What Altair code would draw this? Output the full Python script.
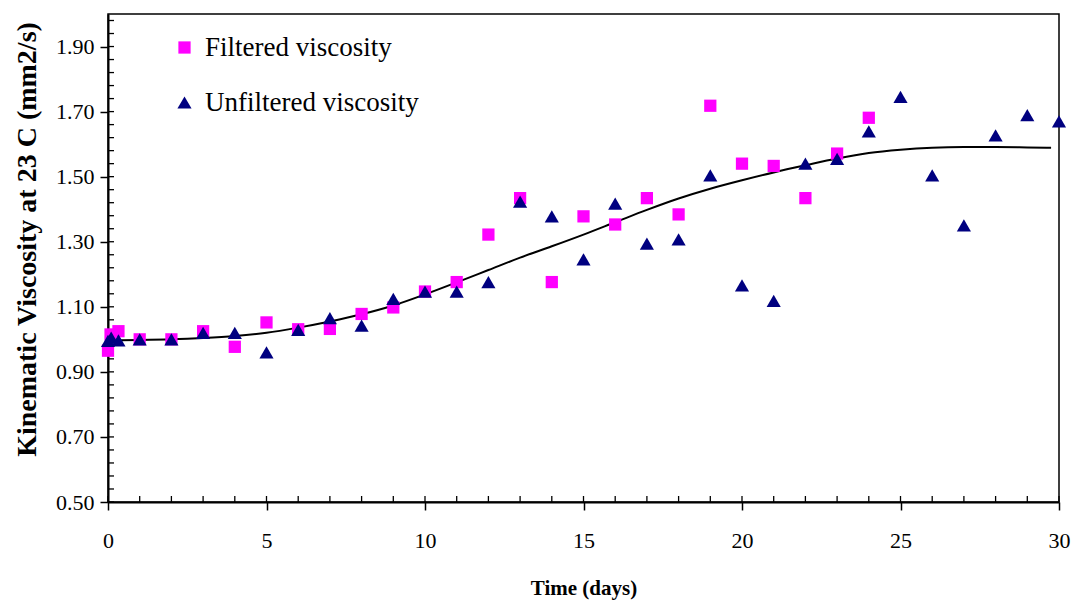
import altair as alt
import pandas as pd

FONT = "Liberation Serif"
series_names = ["Filtered viscosity", "Unfiltered viscosity"]

filt_days = [0, 0.08, 0.33, 1, 2, 3, 4, 5, 6, 7, 8, 9, 10, 11, 12, 13, 14, 15, 16, 17, 18, 19, 20, 21, 22, 23, 24]
filt_visc = [0.965, 1.015, 1.025, 1.0, 1.0, 1.025, 0.977, 1.052, 1.031, 1.032, 1.078, 1.098, 1.147, 1.176,
             1.322, 1.434, 1.176, 1.378, 1.353, 1.434, 1.384, 1.718, 1.54, 1.533, 1.434, 1.571, 1.681]

unf_days = [0, 0.1, 0.33, 1, 2, 3, 4, 5, 6, 7, 8, 9, 10, 11, 12, 13, 14, 15, 16, 17, 18, 19, 20, 21, 22, 23,
            24, 25, 26, 27, 28, 29, 30]
unf_visc = [0.995, 1.005, 0.997, 1.0, 1.0, 1.02, 1.02, 0.96, 1.029, 1.065, 1.042, 1.124, 1.147, 1.147, 1.176,
            1.423, 1.378, 1.246, 1.417, 1.294, 1.307, 1.504, 1.166, 1.118, 1.54, 1.555, 1.639, 1.745, 1.504,
            1.35, 1.627, 1.689, 1.67]

curve_days = [0, 1, 2, 3, 4, 5, 6, 7, 8, 9, 10, 11, 12, 13, 14, 15, 16, 17, 18, 19, 20, 21, 22, 23, 24, 25,
              26, 27, 28, 29, 29.75]
curve_visc = [0.997, 0.998, 1.0, 1.004, 1.010, 1.020, 1.036, 1.055, 1.077, 1.104, 1.138, 1.175, 1.213, 1.251,
              1.286, 1.322, 1.360, 1.398, 1.433, 1.463, 1.489, 1.513, 1.535, 1.556, 1.573, 1.583, 1.589, 1.591,
              1.591, 1.590, 1.589]

x_major = [0, 5, 10, 15, 20, 25, 30]
x_minor = list(range(0, 31))
y_major = [0.5, 0.7, 0.9, 1.1, 1.3, 1.5, 1.7, 1.9]
y_minor = [round(0.5 + 0.04 * i, 2) for i in range(38)]

points = pd.DataFrame({
    "day": filt_days + unf_days,
    "visc": filt_visc + unf_visc,
    "series": [series_names[0]] * len(filt_days) + [series_names[1]] * len(unf_days),
})
curve = pd.DataFrame({"day": curve_days, "visc": curve_visc})
xticks = pd.DataFrame({"day": x_minor})
yticks = pd.DataFrame({"visc": y_minor})

xscale = alt.Scale(domain=[0, 30], nice=False, zero=False)
yscale = alt.Scale(domain=[0.5, 2.0], nice=False, zero=False)

line = alt.Chart(curve).mark_line(color="black", strokeWidth=2, interpolate="monotone").encode(
    x=alt.X("day:Q", scale=xscale, axis=alt.Axis(
        orient="bottom", values=x_major, format="d", title="Time (days)", labelFlush=False,
        tickSize=8, tickWidth=1.5, tickColor="black", domainColor="black", domainWidth=2,
        labelFont=FONT, labelFontSize=22, labelColor="black", labelPadding=20,
        titleFont=FONT, titleFontSize=21, titleFontWeight="bold", titleColor="black", titlePadding=26,
        grid=False)),
    y=alt.Y("visc:Q", scale=yscale, axis=alt.Axis(
        orient="left", values=y_major, format=".2f", title="Kinematic Viscosity at 23 C (mm2/s)",
        labelFlush=False,
        tickSize=8, tickWidth=1.5, tickColor="black", domainColor="black", domainWidth=2,
        labelFont=FONT, labelFontSize=22, labelColor="black", labelPadding=6,
        titleFont=FONT, titleFontSize=28, titleFontWeight="bold", titleColor="black", titlePadding=14,
        titleY=225, grid=False)),
)

# inner minor ticks along the bottom and left axes
xtick_layer = alt.Chart(xticks).mark_rule(color="black", strokeWidth=1.3, y2Offset=-6).encode(
    x=alt.X("day:Q", scale=xscale),
    y=alt.datum(0.5, scale=yscale),
    y2=alt.datum(0.5),
)
ytick_layer = alt.Chart(yticks).mark_rule(color="black", strokeWidth=1.3, x2Offset=6).encode(
    x=alt.datum(0, scale=xscale),
    x2=alt.datum(0),
    y=alt.Y("visc:Q", scale=yscale),
)

leg = alt.Legend(title=None, orient="none", legendX=63, legendY=20, labelFont=FONT, labelFontSize=27,
                 labelColor="black", symbolSize=120, rowPadding=27, labelOffset=7, padding=0,
                 symbolStrokeWidth=0, labelLimit=0)

pts = alt.Chart(points).mark_point(filled=True, opacity=1).encode(
    x=alt.X("day:Q", scale=xscale),
    y=alt.Y("visc:Q", scale=yscale),
    shape=alt.Shape("series:N", scale=alt.Scale(domain=series_names, range=["square", "triangle-up"]), legend=leg),
    color=alt.Color("series:N", scale=alt.Scale(domain=series_names, range=["#FF00FF", "#000080"]), legend=leg),
    size=alt.Size("series:N", scale=alt.Scale(domain=series_names, range=[150, 200]), legend=None),
)

chart = alt.layer(xtick_layer, ytick_layer, line, pts).properties(
    width=951, height=488,
    autosize=alt.AutoSizeParams(type="none"),
    padding={"left": 108, "top": 14, "right": 14, "bottom": 98},
    background="white",
).configure_view(stroke="black", strokeWidth=1.5)

chart.save("out.html", embed_options={"renderer": "svg", "actions": False})
